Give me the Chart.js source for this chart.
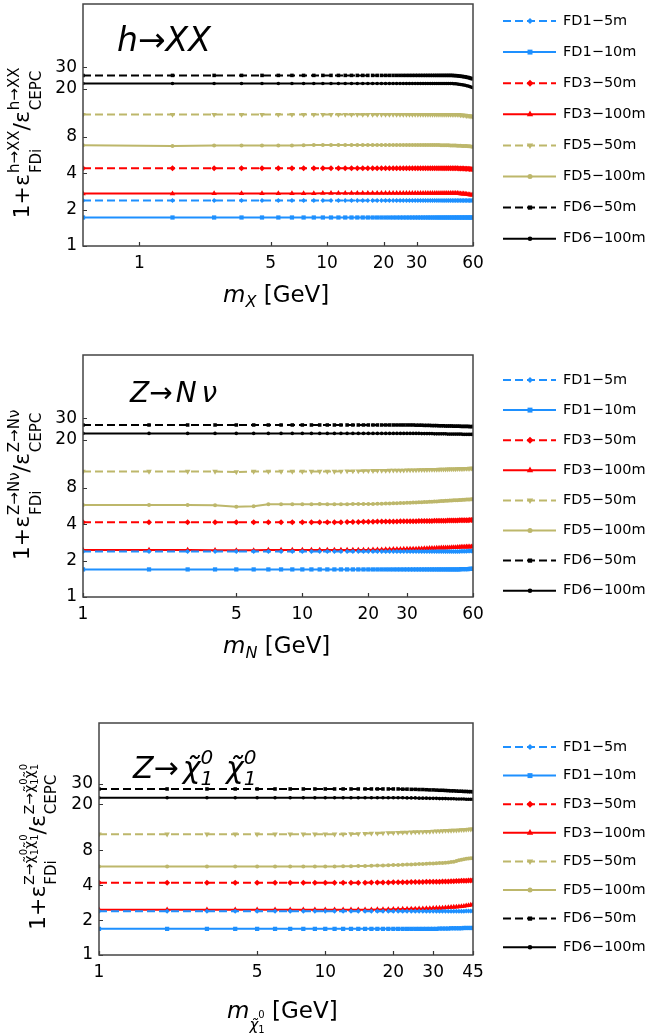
<!DOCTYPE html>
<html>
<head>
<meta charset="utf-8">
<script src="https://cdn.jsdelivr.net/npm/chart.js@4.4.0/dist/chart.umd.min.js"></script>
<style>
  body { margin: 0; background: #fff; width: 649px; height: 1036px; position: relative; overflow: hidden; }
  canvas { position: absolute; left: 0; }
</style>
</head>
<body>
<canvas id="c1" width="649" height="360" style="top:-30px"></canvas>
<canvas id="c2" width="649" height="360" style="top:330px"></canvas>
<canvas id="c3" width="649" height="346" style="top:690px"></canvas>
<script>
// ---- data ----
const seriesNames = ['FD1−5m', 'FD1−10m', 'FD3−50m', 'FD3−100m', 'FD5−50m', 'FD5−100m', 'FD6−50m', 'FD6−100m'];
const yTicks = [1, 2, 4, 8, 20, 30];
const xTicks1 = [1, 5, 10, 20, 30, 60];
const xTicks2 = [1, 5, 10, 20, 30, 60];
const xTicks3 = [1, 5, 10, 20, 30, 45];

// h -> XX, m_X
const x1 = [0.5,1.5,2.5,3.5,4.5,5.5,6.5,7.5,8.5,9.5,10.5,11.5,12.5,13.5,14.5,15.5,16.5,17.5,18.5,19.5,
  20.5,21.5,22.5,23.5,24.5,25.5,26.5,27.5,28.5,29.5,30.5,31.5,32.5,33.5,34.5,35.5,36.5,37.5,38.5,39.5,
  40.5,41.5,42.5,43.5,44.5,45.5,46.5,47.5,48.5,49.5,50.5,51.5,52.5,53.5,54.5,55.5,56.5,57.5,58.5,59.5];
const p1Fd1_5m = [2.38,2.38,2.38,2.38,2.38,2.38,2.38,2.38,2.38,2.38, 2.38,2.38,2.38,2.38,2.38,2.38,2.38,2.38,2.38,2.38,
  2.38,2.38,2.38,2.38,2.38,2.38,2.38,2.38,2.38,2.38, 2.38,2.38,2.38,2.38,2.38,2.38,2.38,2.38,2.38,2.38,
  2.38,2.38,2.38,2.38,2.38,2.38,2.38,2.38,2.38,2.38, 2.38,2.38,2.38,2.38,2.38,2.38,2.38,2.38,2.38,2.38];
const p1Fd1_10m = [1.72,1.72,1.72,1.72,1.72,1.72,1.72,1.72,1.72,1.72, 1.72,1.72,1.72,1.72,1.72,1.72,1.72,1.72,1.72,1.72,
  1.72,1.72,1.72,1.72,1.72,1.72,1.72,1.72,1.72,1.72, 1.72,1.72,1.72,1.72,1.72,1.72,1.72,1.72,1.72,1.72,
  1.72,1.72,1.72,1.72,1.72,1.72,1.72,1.72,1.72,1.72, 1.72,1.72,1.72,1.72,1.72,1.72,1.72,1.72,1.72,1.72];
const p1Fd3_50m = [4.39,4.39,4.39,4.39,4.39,4.39,4.39,4.39,4.39,4.39, 4.39,4.39,4.39,4.39,4.39,4.39,4.39,4.39,4.39,4.39,
  4.39,4.39,4.39,4.39,4.39,4.39,4.39,4.39,4.39,4.39, 4.39,4.39,4.39,4.39,4.39,4.39,4.39,4.39,4.39,4.39,
  4.39,4.39,4.39,4.39,4.39,4.39,4.39,4.39,4.39,4.39, 4.38,4.38,4.37,4.36,4.35,4.35,4.34,4.33,4.32,4.31];
const p1Fd3_100m = [2.71,2.71,2.72,2.72,2.72,2.72,2.72,2.72,2.72,2.73, 2.73,2.73,2.73,2.73,2.73,2.73,2.73,2.73,2.73,2.73,
  2.73,2.73,2.73,2.73,2.73,2.73,2.73,2.73,2.73,2.73, 2.73,2.73,2.73,2.73,2.73,2.73,2.73,2.73,2.73,2.73,
  2.73,2.73,2.73,2.73,2.73,2.73,2.73,2.73,2.73,2.73, 2.72,2.71,2.70,2.70,2.69,2.68,2.67,2.66,2.65,2.64];
const p1Fd5_50m = [12.2,12.2,12.2,12.2,12.2,12.2,12.2,12.2,12.2,12.2, 12.2,12.2,12.2,12.2,12.2,12.2,12.2,12.2,12.2,12.2,
  12.2,12.2,12.2,12.2,12.2,12.2,12.2,12.2,12.2,12.2, 12.2,12.2,12.2,12.2,12.2,12.2,12.2,12.2,12.2,12.2,
  12.2,12.2,12.2,12.2,12.2,12.2,12.2,12.2,12.2,12.2, 12.2,12.1,12.1,12.0,12.0,11.9,11.9,11.9,11.8,11.8];
const p1Fd5_100m = [6.80,6.70,6.76,6.78,6.78,6.78,6.78,6.80,6.82,6.85, 6.85,6.85,6.84,6.84,6.84,6.84,6.84,6.84,6.84,6.84,
  6.84,6.84,6.84,6.84,6.84,6.84,6.84,6.84,6.84,6.84, 6.84,6.84,6.84,6.84,6.84,6.83,6.83,6.83,6.82,6.82,
  6.81,6.81,6.80,6.80,6.79,6.78,6.77,6.77,6.76,6.75, 6.74,6.73,6.72,6.71,6.70,6.69,6.68,6.66,6.64,6.62];
const p1Fd6_50m = [25.7,25.7,25.7,25.7,25.7,25.7,25.7,25.7,25.7,25.7, 25.7,25.7,25.7,25.7,25.7,25.7,25.7,25.7,25.7,25.7,
  25.7,25.7,25.7,25.7,25.7,25.7,25.7,25.7,25.7,25.7, 25.7,25.7,25.7,25.7,25.7,25.7,25.7,25.7,25.7,25.7,
  25.7,25.7,25.7,25.7,25.7,25.7,25.7,25.6,25.6,25.5, 25.4,25.3,25.2,25.1,25.0,24.8,24.7,24.5,24.3,24.1];
const p1Fd6_100m = [22.0,22.0,22.0,22.0,22.0,22.0,22.0,22.0,22.0,22.0, 22.0,22.0,22.0,22.0,22.0,22.0,22.0,22.0,22.0,22.0,
  22.0,22.0,22.0,22.0,22.0,22.0,22.0,22.0,22.0,22.0, 22.0,22.0,22.0,22.0,22.0,22.0,22.0,22.0,22.0,22.0,
  22.0,22.0,22.0,22.0,22.0,22.0,22.0,21.9,21.9,21.8, 21.7,21.6,21.5,21.4,21.3,21.1,21.0,20.8,20.6,20.4];

// Z -> N nu, m_N
const x2 = [1,2,3,4,5,6,7,8,9,10,11,12,13,14,15,16,17,18,19,20,21,22,23,24,25,26,27,28,29,30,
  31,32,33,34,35,36,37,38,39,40,41,42,43,44,45,46,47,48,49,50,51,52,53,54,55,56,57,58,59,60];
const p2Fd1_5m = [2.38,2.38,2.38,2.38,2.38,2.38,2.38,2.38,2.38,2.38, 2.38,2.38,2.38,2.38,2.38,2.38,2.38,2.38,2.38,2.38,
  2.38,2.38,2.38,2.38,2.38,2.38,2.38,2.38,2.38,2.38, 2.38,2.38,2.38,2.38,2.38,2.38,2.38,2.38,2.38,2.38,
  2.38,2.38,2.38,2.38,2.38,2.38,2.38,2.38,2.38,2.38, 2.38,2.38,2.39,2.39,2.39,2.39,2.40,2.40,2.40,2.40];
const p2Fd1_10m = [1.69,1.69,1.69,1.69,1.69,1.69,1.69,1.69,1.69,1.69, 1.69,1.69,1.69,1.69,1.69,1.69,1.69,1.69,1.69,1.69,
  1.69,1.69,1.69,1.69,1.69,1.69,1.69,1.69,1.69,1.69, 1.69,1.69,1.69,1.69,1.69,1.69,1.69,1.69,1.69,1.69,
  1.69,1.69,1.69,1.69,1.69,1.69,1.69,1.69,1.69,1.69, 1.69,1.69,1.70,1.70,1.70,1.70,1.70,1.71,1.71,1.71];
const p2Fd3_50m = [4.14,4.14,4.14,4.14,4.14,4.14,4.14,4.14,4.14,4.14, 4.14,4.14,4.14,4.14,4.15,4.16,4.17,4.17,4.18,4.19,
  4.19,4.20,4.20,4.20,4.21,4.21,4.21,4.22,4.22,4.22, 4.23,4.23,4.23,4.24,4.24,4.24,4.25,4.25,4.25,4.26,
  4.26,4.26,4.27,4.27,4.27,4.28,4.28,4.28,4.29,4.29, 4.29,4.30,4.30,4.30,4.31,4.31,4.31,4.32,4.32,4.33];
const p2Fd3_100m = [2.45,2.45,2.45,2.44,2.43,2.43,2.45,2.45,2.45,2.45, 2.45,2.45,2.45,2.45,2.45,2.45,2.45,2.45,2.45,2.45,
  2.46,2.46,2.46,2.47,2.47,2.48,2.48,2.48,2.49,2.49, 2.50,2.50,2.50,2.51,2.51,2.52,2.52,2.53,2.53,2.53,
  2.54,2.54,2.55,2.55,2.55,2.56,2.56,2.57,2.57,2.57, 2.58,2.58,2.59,2.59,2.59,2.60,2.60,2.60,2.61,2.61];
const p2Fd5_50m = [10.9,10.9,10.9,10.9,10.8,10.9,10.9,10.9,10.9,10.9, 10.9,10.9,10.9,10.9,10.95,11.0,11.0,11.0,11.03,11.05,
  11.06,11.07,11.09,11.10,11.11,11.12,11.14,11.15,11.16,11.18, 11.19,11.20,11.21,11.23,11.24,11.25,11.27,11.28,11.29,11.30,
  11.32,11.33,11.34,11.36,11.37,11.38,11.39,11.41,11.42,11.43, 11.45,11.46,11.47,11.48,11.50,11.51,11.52,11.54,11.56,11.58];
const p2Fd5_100m = [5.76,5.76,5.75,5.72,5.58,5.62,5.85,5.84,5.84,5.85, 5.85,5.86,5.85,5.84,5.84,5.85,5.86,5.86,5.87,5.87,
  5.88,5.89,5.91,5.92,5.93,5.95,5.96,5.98,5.99,6.00, 6.02,6.03,6.05,6.06,6.08,6.09,6.11,6.12,6.14,6.15,
  6.17,6.18,6.20,6.21,6.23,6.24,6.26,6.27,6.29,6.30, 6.31,6.33,6.34,6.35,6.37,6.38,6.39,6.40,6.41,6.42];
const p2Fd6_50m = [26.4,26.4,26.4,26.4,26.4,26.4,26.4,26.4,26.4,26.4, 26.4,26.4,26.4,26.4,26.4,26.4,26.4,26.4,26.4,26.4,
  26.4,26.4,26.4,26.4,26.4,26.4,26.4,26.4,26.4,26.4, 26.4,26.4,26.3,26.3,26.3,26.2,26.2,26.2,26.1,26.1,
  26.1,26.0,26.0,26.0,25.9,25.9,25.9,25.9,25.8,25.8, 25.8,25.8,25.7,25.7,25.7,25.7,25.7,25.6,25.6,25.6];
const p2Fd6_100m = [22.5,22.5,22.5,22.5,22.5,22.5,22.5,22.5,22.5,22.5, 22.5,22.5,22.5,22.5,22.5,22.5,22.5,22.5,22.5,22.5,
  22.5,22.5,22.5,22.5,22.5,22.5,22.5,22.5,22.5,22.5, 22.5,22.5,22.5,22.5,22.4,22.4,22.4,22.4,22.4,22.3,
  22.3,22.3,22.3,22.3,22.3,22.2,22.2,22.2,22.2,22.2, 22.2,22.2,22.2,22.1,22.1,22.1,22.1,22.1,22.1,22.1];

// Z -> chi chi, m_chi
const x3 = [1,2,3,4,5,6,7,8,9,10,11,12,13,14,15,16,17,18,19,20,21,22,23,24,25,26,27,28,29,30,
  31,32,33,34,35,36,37,38,39,40,41,42,43,44,45];
const p3Fd1_5m = [2.38,2.38,2.38,2.38,2.38,2.38,2.38,2.38,2.38,2.38, 2.38,2.38,2.38,2.38,2.38,2.38,2.38,2.38,2.38,2.38,
  2.38,2.38,2.38,2.38,2.38,2.38,2.38,2.38,2.38,2.38, 2.38,2.38,2.38,2.38,2.38,2.38,2.38,2.38,2.38,2.38,
  2.38,2.39,2.39,2.39,2.40];
const p3Fd1_10m = [1.68,1.68,1.68,1.68,1.68,1.68,1.68,1.68,1.68,1.68, 1.68,1.68,1.68,1.68,1.68,1.68,1.68,1.68,1.68,1.68,
  1.68,1.68,1.68,1.68,1.68,1.68,1.68,1.68,1.68,1.68, 1.68,1.69,1.69,1.69,1.69,1.70,1.70,1.70,1.70,1.70,
  1.71,1.71,1.71,1.71,1.71];
const p3Fd3_50m = [4.20,4.20,4.20,4.20,4.20,4.20,4.20,4.20,4.20,4.20, 4.20,4.20,4.20,4.20,4.20,4.21,4.21,4.22,4.22,4.23,
  4.23,4.24,4.24,4.25,4.25,4.26,4.26,4.27,4.27,4.28, 4.29,4.29,4.30,4.31,4.31,4.32,4.33,4.34,4.35,4.36,
  4.36,4.37,4.38,4.39,4.40];
const p3Fd3_100m = [2.46,2.46,2.46,2.46,2.46,2.46,2.46,2.46,2.46,2.46, 2.46,2.46,2.46,2.46,2.46,2.46,2.47,2.47,2.47,2.48,
  2.48,2.49,2.49,2.50,2.50,2.51,2.51,2.52,2.52,2.53, 2.54,2.54,2.55,2.56,2.57,2.58,2.59,2.60,2.61,2.62,
  2.64,2.66,2.68,2.70,2.72];
const p3Fd5_50m = [11.0,11.0,11.0,11.0,11.0,11.0,11.0,11.0,11.0,11.0, 11.0,11.0,11.05,11.1,11.15,11.2,11.2,11.25,11.3,11.3,
  11.35,11.4,11.4,11.45,11.5,11.5,11.55,11.6,11.6,11.65, 11.7,11.7,11.75,11.8,11.8,11.85,11.9,11.9,11.95,12.0,
  12.0,12.05,12.1,12.15,12.2];
const p3Fd5_100m = [5.80,5.80,5.80,5.80,5.80,5.80,5.80,5.80,5.80,5.80, 5.80,5.81,5.82,5.84,5.86,5.88,5.90,5.92,5.94,5.96,
  5.98,6.00,6.02,6.04,6.06,6.08,6.10,6.12,6.14,6.16, 6.18,6.20,6.22,6.25,6.28,6.32,6.38,6.46,6.55,6.64,
  6.70,6.75,6.79,6.82,6.84];
const p3Fd6_50m = [27.0,27.0,27.0,27.0,27.0,27.0,27.0,27.0,27.0,27.0, 27.0,27.0,27.0,27.0,27.0,27.0,27.0,27.0,27.0,27.0,
  27.0,26.9,26.9,26.8,26.8,26.7,26.7,26.6,26.5,26.5, 26.4,26.3,26.3,26.2,26.1,26.0,26.0,25.9,25.8,25.8,
  25.7,25.7,25.6,25.6,25.5];
const p3Fd6_100m = [22.7,22.7,22.7,22.7,22.7,22.7,22.7,22.7,22.7,22.7, 22.7,22.7,22.7,22.7,22.7,22.7,22.7,22.7,22.7,22.7,
  22.7,22.7,22.6,22.6,22.6,22.5,22.5,22.5,22.4,22.4, 22.4,22.3,22.3,22.3,22.2,22.2,22.2,22.1,22.1,22.1,
  22.1,22.0,22.0,22.0,22.0];

// ---- styles ----
const lineColors = ['#1e90ff', '#1e90ff', '#ff0000', '#ff0000', '#bdb76b', '#bdb76b', '#000000', '#000000'];
const dashed = [true, false, true, false, true, false, true, false];
const markers = ['rectRot', 'rect', 'rectRot', 'triangle', 'triangle', 'circle', 'rect', 'circle'];
const markerRot = [0, 0, 0, 0, 180, 0, 0, 0];
const markerSize = [2.5, 3, 3, 3.2, 3.2, 2, 2.5, 1.8];

const FONT = '"DejaVu Sans"';
const F = (size, italic) => (italic ? 'italic ' : '') + size + 'px ' + FONT;

/**
 * Draws a list of text runs left to right; {stack:[a,b]} puts a and b at the same x
 */
function drawRuns(ctx, runs, x, y, draw) {
    let cx = x;
    runs.forEach(r => {
        if (r.stack) {
            let w = 0;
            r.stack.forEach(sub => { w = Math.max(w, drawRuns(ctx, sub, cx, y, draw)); });
            cx += w;
        } else {
            ctx.font = r.f;
            if (draw) ctx.fillText(r.t, cx, y + (r.dy || 0));
            cx += ctx.measureText(r.t).width + (r.gap || 0);
        }
    });
    return cx - x;
}

function yTitleRuns(sup, subDy) {
    return [
        { t: '1+', f: F(22) }, { t: 'ε', f: F(22), gap: 1 },
        { stack: [sup, [{ t: 'FDi', f: F(15), dy: subDy }]] },
        { t: '/', f: F(22) }, { t: 'ε', f: F(22), gap: 1 },
        { stack: [sup, [{ t: 'CEPC', f: F(15), dy: subDy }]] }
    ];
}

const chiSup = [
    { t: 'Z→χ̃', f: F(14), dy: -11 },
    { stack: [[{ t: '0', f: F(10), dy: -18 }], [{ t: '1', f: F(10), dy: -7 }]] },
    { t: 'χ̃', f: F(14), dy: -11 },
    { stack: [[{ t: '0', f: F(10), dy: -18 }], [{ t: '1', f: F(10), dy: -7 }]] }
];

// panel geometry below is in page pixels; top = canvas offset on the page
const panels = [
    {
        id: 'c1', top: -30, H: 360, x: x1, xMin: 0.5, xMax: 60, xTicks: xTicks1,
        series: [p1Fd1_5m, p1Fd1_10m, p1Fd3_50m, p1Fd3_100m, p1Fd5_50m, p1Fd5_100m, p1Fd6_50m, p1Fd6_100m],
        plot: { l: 83, r: 473, t: 4, b: 246 },
        legendTop: 21, legendStep: 31.1,
        title: { x: 117, y: 51, runs: [{ t: 'h', f: F(33, true) }, { t: '→', f: F(33) }, { t: 'XX', f: F(33, true) }] },
        xTitle: { x: 223, y: 302, runs: [{ t: 'm', f: F(23, true) }, { t: 'X', f: F(16, true), dy: 5 }, { t: ' [GeV]', f: F(23) }] },
        yTitle: { x: 29, y: 143, runs: yTitleRuns([{ t: 'h→XX', f: F(15), dy: -10 }], 12) }
    },
    {
        id: 'c2', top: 330, H: 360, x: x2, xMin: 1, xMax: 60, xTicks: xTicks2,
        series: [p2Fd1_5m, p2Fd1_10m, p2Fd3_50m, p2Fd3_100m, p2Fd5_50m, p2Fd5_100m, p2Fd6_50m, p2Fd6_100m],
        plot: { l: 83, r: 473, t: 355, b: 597 },
        legendTop: 380, legendStep: 30.1,
        title: { x: 130, y: 402, runs: [{ t: 'Z', f: F(28, true) }, { t: '→', f: F(28), gap: 3 }, { t: 'N', f: F(28, true), gap: 5 }, { t: 'ν', f: F(28, true) }] },
        xTitle: { x: 223, y: 653, runs: [{ t: 'm', f: F(23, true) }, { t: 'N', f: F(16, true), dy: 5 }, { t: ' [GeV]', f: F(23) }] },
        yTitle: { x: 29, y: 485, runs: yTitleRuns([{ t: 'Z→Nν', f: F(15), dy: -10 }], 12) }
    },
    {
        id: 'c3', top: 690, H: 346, x: x3, xMin: 1, xMax: 45, xTicks: xTicks3,
        series: [p3Fd1_5m, p3Fd1_10m, p3Fd3_50m, p3Fd3_100m, p3Fd5_50m, p3Fd5_100m, p3Fd6_50m, p3Fd6_100m],
        plot: { l: 99, r: 473, t: 723, b: 955 },
        legendTop: 747, legendStep: 28.6,
        title: { x: 133, y: 778, runs: [
            { t: 'Z', f: F(30, true) }, { t: '→', f: F(30), gap: 4 }, { t: 'χ̃', f: F(30, true) },
            { stack: [[{ t: '0', f: F(20, true), dy: -14 }], [{ t: '1', f: F(20, true), dy: 7 }]] },
            { t: '  ', f: F(20) }, { t: 'χ̃', f: F(30, true) },
            { stack: [[{ t: '0', f: F(20, true), dy: -14 }], [{ t: '1', f: F(20, true), dy: 7 }]] }
        ] },
        xTitle: { x: 227, y: 1018, runs: [
            { t: 'm', f: F(23, true) },
            { t: 'χ̃', f: F(15, true), dy: 12 },
            { stack: [[{ t: '0', f: F(10), dy: 0 }], [{ t: '1', f: F(10), dy: 15 }]] },
            { t: ' [GeV]', f: F(23) }
        ] },
        yTitle: { x: 45, y: 847, runs: yTitleRuns(chiSup, 11) }
    }
];

const decorPlugin = {
    id: 'decor',
    afterDraw(chart, args, p) {
        const ctx = chart.ctx;
        const a = chart.chartArea;
        const xs = chart.scales.x, ys = chart.scales.y;
        ctx.save();

        // inward tick marks
        ctx.strokeStyle = '#333';
        ctx.lineWidth = 1.2;
        ctx.beginPath();
        xs.ticks.forEach(t => {
            const px = Math.round(xs.getPixelForValue(t.value)) + 0.5;
            ctx.moveTo(px, a.bottom); ctx.lineTo(px, a.bottom - 4);
        });
        ys.ticks.forEach(t => {
            const py = Math.round(ys.getPixelForValue(t.value)) + 0.5;
            ctx.moveTo(a.left, py); ctx.lineTo(a.left + 4, py);
        });
        ctx.stroke();

        // frame
        ctx.lineWidth = 1.5;
        ctx.strokeStyle = '#444';
        ctx.strokeRect(a.left, a.top, a.right - a.left, a.bottom - a.top);

        // texts are placed in page pixels
        ctx.translate(0, -p.top);
        ctx.fillStyle = '#000';
        ctx.textAlign = 'left';
        ctx.textBaseline = 'alphabetic';
        drawRuns(ctx, p.title.runs, p.title.x, p.title.y, true);
        drawRuns(ctx, p.xTitle.runs, p.xTitle.x, p.xTitle.y, true);

        ctx.save();
        ctx.translate(p.yTitle.x, p.yTitle.y);
        ctx.rotate(-Math.PI / 2);
        const w = drawRuns(ctx, p.yTitle.runs, 0, 0, false);
        drawRuns(ctx, p.yTitle.runs, -w / 2, 0, true);
        ctx.restore();

        // legend
        chart.data.datasets.forEach((ds, i) => {
            const y = p.legendTop + i * p.legendStep;
            ctx.strokeStyle = ds.borderColor;
            ctx.lineWidth = 2;
            ctx.setLineDash(ds.borderDash);
            ctx.beginPath();
            ctx.moveTo(503, y); ctx.lineTo(556, y);
            ctx.stroke();
            ctx.setLineDash([]);
            ctx.fillStyle = ds.borderColor;
            Chart.helpers.drawPoint(ctx, {
                pointStyle: ds.pointStyle, radius: ds.pointRadius + 0.5,
                rotation: ds.pointRotation, borderWidth: 0
            }, 530, y);
            ctx.fillStyle = '#000';
            ctx.font = F(14.5);
            ctx.textBaseline = 'middle';
            ctx.fillText(ds.label, 563, y);
        });
        ctx.restore();
    }
};

function makeChart(p) {
    const datasets = p.series.map((ys, i) => ({
        label: seriesNames[i],
        data: p.x.map((xv, j) => ({ x: xv, y: ys[j] })),
        borderColor: lineColors[i],
        backgroundColor: lineColors[i],
        borderWidth: 2,
        borderDash: dashed[i] ? [8, 4] : [],
        pointStyle: markers[i],
        pointRotation: markerRot[i],
        pointRadius: markerSize[i],
        pointBorderWidth: 0,
        pointBackgroundColor: lineColors[i],
        tension: 0,
        fill: false
    }));

    const tickFont = { family: 'DejaVu Sans', size: 17 };

    return new Chart(document.getElementById(p.id), {
        type: 'line',
        data: { datasets },
        plugins: [decorPlugin],
        options: {
            responsive: false,
            maintainAspectRatio: false,
            animation: false,
            layout: { padding: { left: 0, right: 649 - p.plot.r, top: p.plot.t - p.top, bottom: 0 } },
            plugins: { legend: { display: false }, tooltip: { enabled: false }, decor: p },
            scales: {
                x: {
                    type: 'logarithmic', min: p.xMin, max: p.xMax,
                    afterBuildTicks: s => { s.ticks = p.xTicks.map(v => ({ value: v })); },
                    afterFit: s => { s.height = p.H - (p.plot.b - p.top); },
                    ticks: { callback: v => String(v), autoSkip: false, maxRotation: 0, padding: 7, color: '#000', font: tickFont },
                    grid: { display: false, drawTicks: false },
                    border: { display: false }
                },
                y: {
                    type: 'logarithmic', min: 1, max: 100,
                    afterBuildTicks: s => { s.ticks = yTicks.map(v => ({ value: v })); },
                    afterFit: s => { s.width = p.plot.l; },
                    ticks: { callback: v => String(v), autoSkip: false, padding: 6, color: '#000', font: tickFont },
                    grid: { display: false, drawTicks: false },
                    border: { display: false }
                }
            }
        }
    });
}

panels.forEach(makeChart);
</script>
</body>
</html>
